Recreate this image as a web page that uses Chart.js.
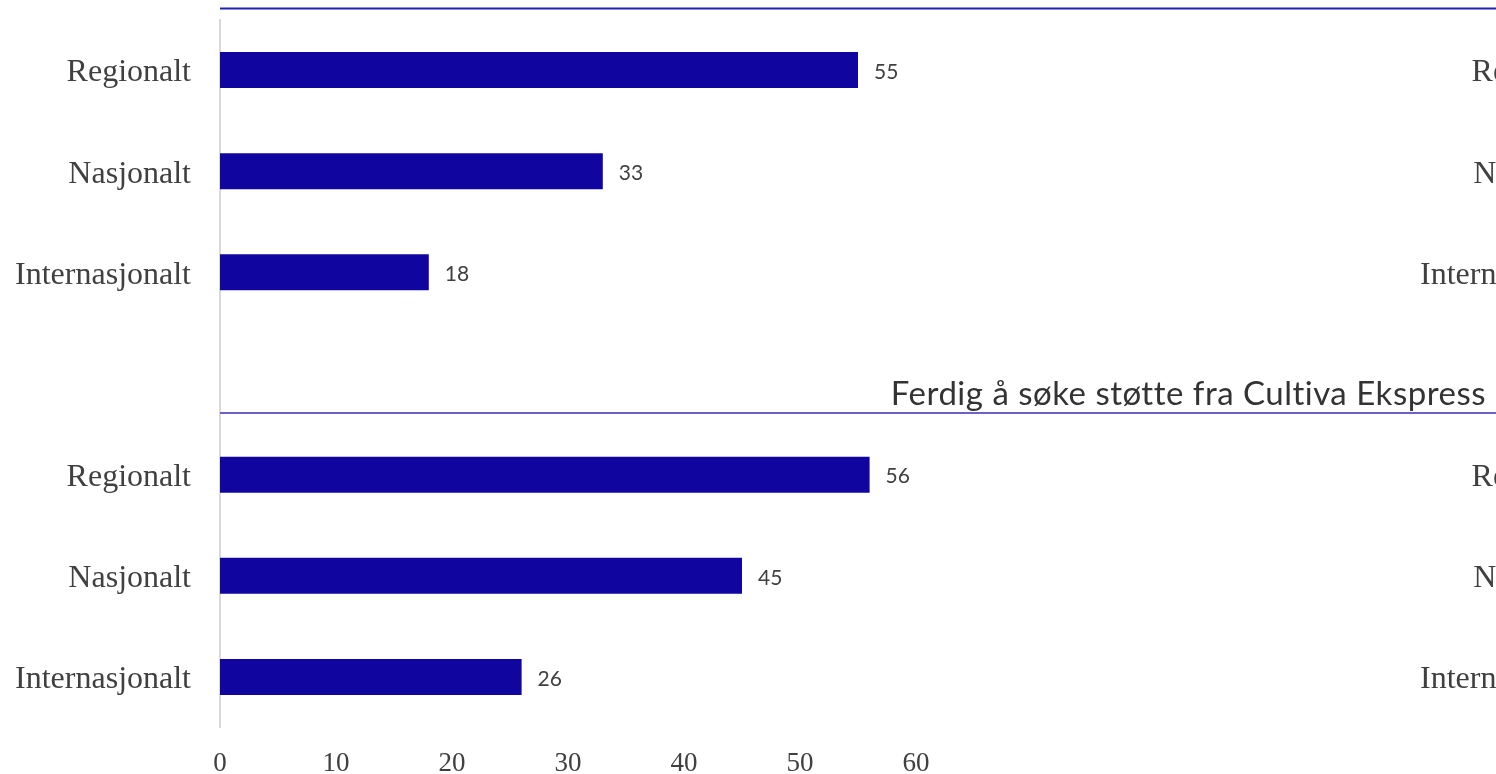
<!DOCTYPE html>
<html lang="no">
<head>
<meta charset="utf-8">
<title>Cultiva Ekspress</title>
<script src="https://cdn.jsdelivr.net/npm/chart.js@4.4.1/dist/chart.umd.min.js"></script>
<style>
  html, body { margin: 0; padding: 0; background: #fff; overflow: hidden; }
  #wrap { position: relative; width: 1496px; height: 774px; overflow: hidden; }
  canvas { position: absolute; top: 0; }
  #hoved { left: 0; }
  #neste { left: 1405px; }
</style>
</head>
<body>
<div id="wrap">
  <canvas id="neste" width="1496" height="774"></canvas>
  <canvas id="hoved" width="1496" height="774"></canvas>
</div>
<script>
const kategorier = ["Regionalt", "Nasjonalt", "Internasjonalt"];
const verdierOvre = [55, 33, 18];
const verdierFerdig = [56, 45, 26];
const xTicks = [0, 10, 20, 30, 40, 50, 60];
const paneltitler = ["", "Ferdig å søke støtte fra Cultiva Ekspress"];

const tekstFarge = "#404040";
const stolpeFarge = "#10069f";
const linjeFarger = ["#2222b0", "#6a62c8"];

// to paneler i samme graf, med en tom rad mellom
const etiketter = [...kategorier, "", ...kategorier];
const verdier = [...verdierOvre, null, ...verdierFerdig];
const panelStart = [0, kategorier.length + 1];

// tall ved enden av hver stolpe
const verdiEtiketter = {
  id: "verdiEtiketter",
  afterDatasetsDraw(chart) {
    const { ctx } = chart;
    const meta = chart.getDatasetMeta(0);
    ctx.save();
    ctx.font = "21px Lato";
    ctx.fillStyle = tekstFarge;
    ctx.textAlign = "left";
    ctx.textBaseline = "middle";
    meta.data.forEach((bar, i) => {
      const v = chart.data.datasets[0].data[i];
      if (v === null || v === undefined) return;
      ctx.fillText(String(v), bar.x + 16, bar.y + 2);
    });
    ctx.restore();
  },
};

// overskrift og blå strek over hvert panel
const panelHoder = {
  id: "panelHoder",
  afterDraw(chart) {
    const { ctx, chartArea } = chart;
    const y = chart.scales.y;
    const band = y.getPixelForValue(1) - y.getPixelForValue(0);
    ctx.save();
    panelStart.forEach((idx, i) => {
      const linjeY = y.getPixelForValue(idx) - band / 2 - 11;
      ctx.strokeStyle = linjeFarger[i];
      ctx.lineWidth = 2;
      ctx.beginPath();
      ctx.moveTo(chartArea.left, linjeY);
      ctx.lineTo(chart.width, linjeY);
      ctx.stroke();
      if (paneltitler[i]) {
        ctx.font = "33px Lato";
        ctx.letterSpacing = "0.5px"; // ingen ti-ligatur
        ctx.fillStyle = "#333333";
        ctx.textAlign = "right";
        ctx.textBaseline = "alphabetic";
        ctx.fillText(paneltitler[i], chart.width - 10, linjeY - 8);
      }
    });
    ctx.restore();
  },
};

function lagOppsett(data, medHoder) {
  return {
    type: "bar",
    data: {
      labels: etiketter,
      datasets: [
        {
          data: data,
          backgroundColor: stolpeFarge,
          borderWidth: 0,
          categoryPercentage: 1,
          barPercentage: 0.356,
        },
      ],
    },
    options: {
      indexAxis: "y",
      responsive: false,
      animation: false,
      layout: { padding: { top: 19.5, right: 580, left: 0, bottom: 0 } },
      plugins: {
        legend: { display: false },
        tooltip: { enabled: false },
        title: { display: false },
      },
      scales: {
        x: {
          min: 0,
          max: 60,
          afterBuildTicks: (scale) => {
            scale.ticks = xTicks.map((v) => ({ value: v }));
          },
          afterFit: (scale) => {
            scale.height = 46.5;
            scale.paddingLeft = 0;
            scale.paddingRight = 0;
          },
          grid: { display: false, drawTicks: false },
          border: { display: false },
          ticks: {
            padding: 20,
            color: tekstFarge,
            font: { family: "Liberation Serif", size: 27 },
          },
        },
        y: {
          afterFit: (scale) => {
            scale.width = 220;
            scale.paddingTop = 0;
            scale.paddingBottom = 0;
          },
          grid: { display: false, drawTicks: false },
          border: { display: true, color: "#d9d9d9", width: 2 },
          ticks: {
            padding: 29,
            labelOffset: 3,
            autoSkip: false,
            color: tekstFarge,
            font: { family: "Liberation Serif", size: 32 },
          },
        },
      },
    },
    plugins: medHoder ? [verdiEtiketter, panelHoder] : [],
  };
}

new Chart(document.getElementById("hoved"), lagOppsett(verdier, true));
// neste graf til høyre, bare etikettene synes i kanten
new Chart(document.getElementById("neste"), lagOppsett([], false));
</script>
</body>
</html>
